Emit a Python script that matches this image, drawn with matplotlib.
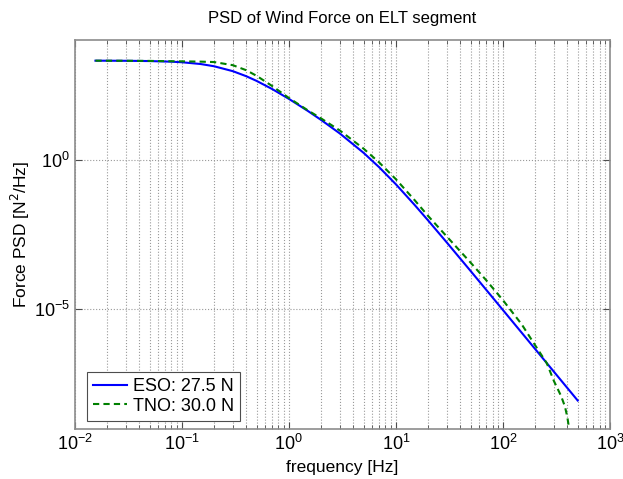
import numpy as np
import matplotlib.pyplot as plt
from matplotlib.ticker import LogLocator, NullFormatter

plt.rcParams['font.family'] = ['Liberation Sans', 'DejaVu Sans']

# ---- data (frequency in Hz, PSD in N^2/Hz) ----
freq = [0.0156, 0.03, 0.05, 0.08, 0.1, 0.15, 0.2, 0.3, 0.4, 0.5, 0.7, 1.0,
        1.5, 2.0, 3.0, 5.0, 7.0, 10.0, 15.0, 20.0, 30.0, 50.0, 70.0, 100.0,
        150.0, 200.0, 300.0, 500.0]

eso_log = [3.309, 3.305, 3.296, 3.275, 3.257, 3.197, 3.123, 2.958, 2.790,
           2.633, 2.360, 2.034, 1.633, 1.330, 0.875, 0.228, -0.256, -0.821,
           -1.515, -2.029, -2.772, -3.722, -4.352, -5.022, -5.784, -6.325,
           -7.088, -8.049]

freq_tno = [0.0156, 0.03, 0.05, 0.08, 0.1, 0.15, 0.2, 0.3, 0.4, 0.5, 0.7, 1.0,
            1.5, 2.0, 3.0, 5.0, 7.0, 10.0, 15.0, 20.0, 30.0, 50.0, 70.0, 100.0,
            150.0, 200.0, 257.0, 300.0, 350.0, 380.0, 400.0, 410.0, 420.0, 430.0]

tno_log = [3.309, 3.306, 3.301, 3.290, 3.287, 3.277, 3.263, 3.158, 2.990,
           2.803, 2.460, 2.064, 1.653, 1.380, 0.975, 0.368, -0.096, -0.651,
           -1.355, -1.879, -2.572, -3.442, -4.032, -4.692, -5.504, -6.200,
           -6.800, -7.400, -7.900, -8.250, -8.600, -8.850, -9.300, -10.500]

eso = 10.0 ** np.array(eso_log)
tno = 10.0 ** np.array(tno_log)

fig = plt.figure(figsize=(6.23, 4.79), dpi=100)
ax = fig.add_axes([0.12, 0.1044, 0.859, 0.8121])

ax.loglog(freq, eso, '-', color=(0, 0, 1), lw=1.5, label='ESO: 27.5 N')
ax.loglog(freq_tno, tno, '--', color=(0, 0.5, 0), lw=1.5, dashes=(3, 2),
          label='TNO: 30.0 N')

ax.set_xlim(1e-2, 1e3)
ax.set_ylim(1e-9, 1e4)

ax.xaxis.set_major_locator(LogLocator(base=10, numticks=10))
ax.xaxis.set_minor_locator(LogLocator(base=10, subs=np.arange(2, 10), numticks=20))
ax.xaxis.set_minor_formatter(NullFormatter())
ax.set_yticks([1e-5, 1e0])
ax.yaxis.set_minor_locator(plt.NullLocator())

ax.grid(True, which='major', axis='both', linestyle=':', color='0.6', lw=0.8)
ax.grid(True, which='minor', axis='x', linestyle=':', color='0.6', lw=0.8)

ax.tick_params(which='both', direction='in', top=True, right=True,
               labelsize=13, color='0.3')
ax.tick_params(which='major', length=5)
ax.tick_params(which='minor', length=3)
for sp in ax.spines.values():
    sp.set_color('0.55')
    sp.set_linewidth(1.2)

ax.set_title('PSD of Wind Force on ELT segment', fontsize=12, pad=12)
ax.set_xlabel('frequency [Hz]', fontsize=12.5)
ax.set_ylabel('Force PSD [N$^2$/Hz]', fontsize=12.5, labelpad=1)

leg = ax.legend(loc='lower left', bbox_to_anchor=(0.0224, 0.0206),
                borderaxespad=0, fontsize=13, handlelength=1.9,
                handletextpad=0.3, fancybox=False, framealpha=1,
                labelspacing=0.15, borderpad=0.35)
leg.get_frame().set_edgecolor('0.3')
leg.get_frame().set_linewidth(0.8)

fig.savefig('out.png', dpi=100)
